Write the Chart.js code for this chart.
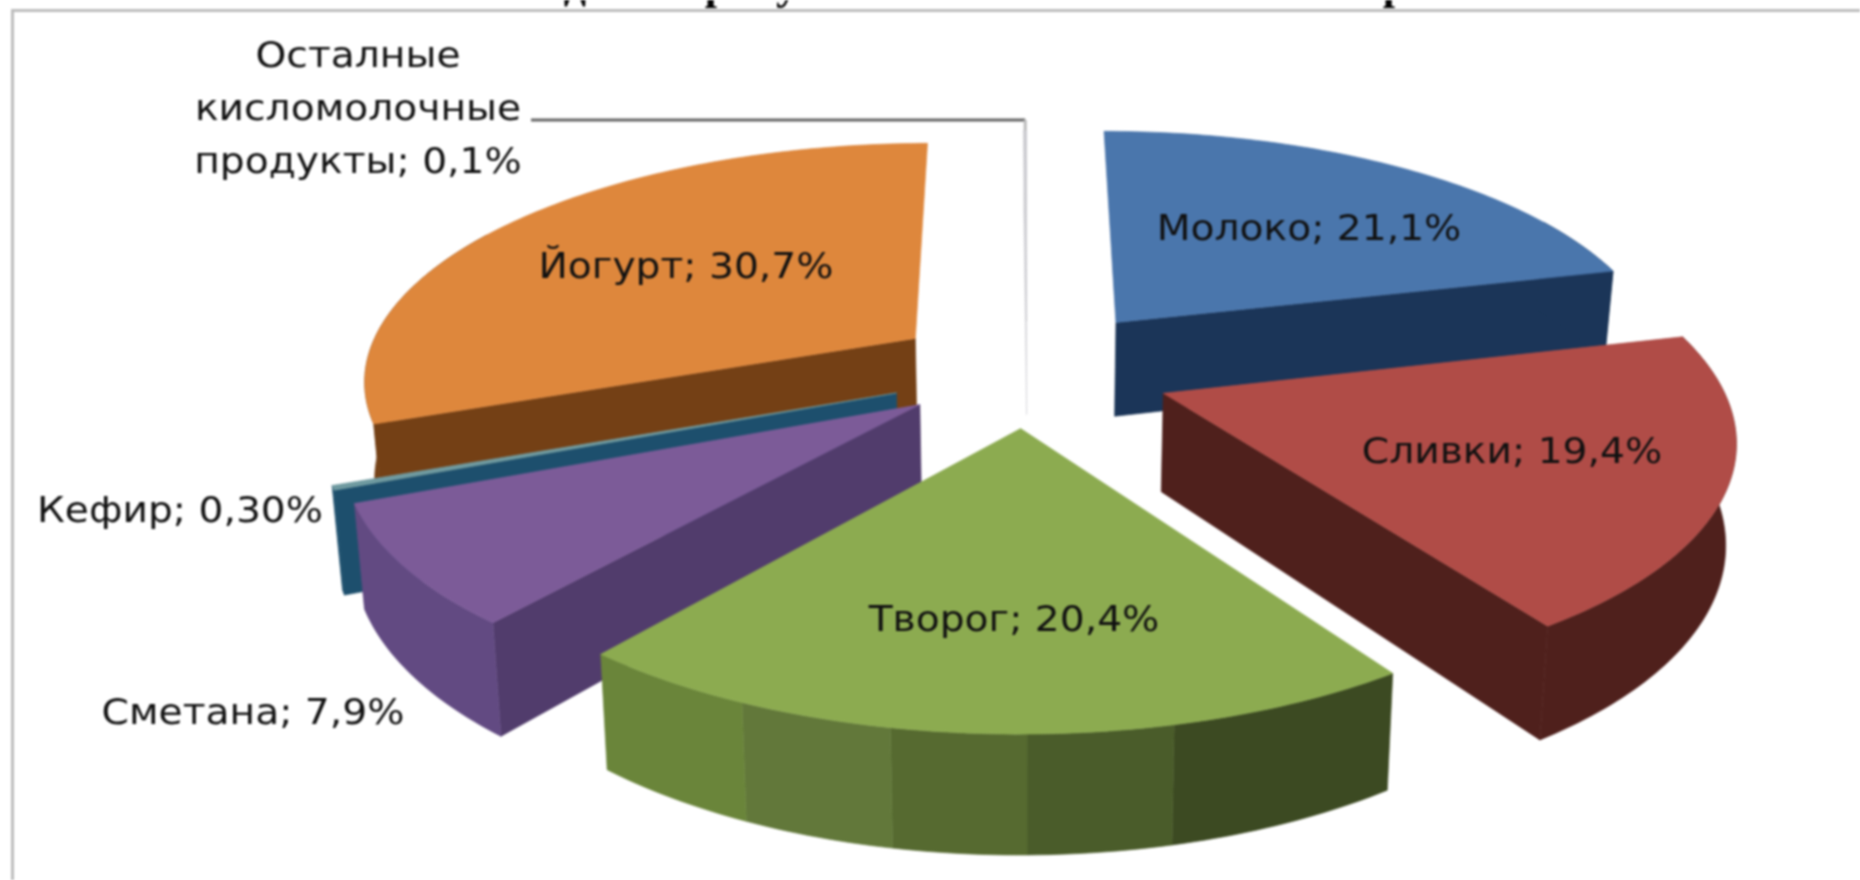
<!DOCTYPE html>
<html>
<head>
<meta charset="utf-8">
<style>
  html, body { margin: 0; padding: 0; background: #fff; overflow: hidden; }
  #wrap { width: 1860px; height: 880px; }
  canvas { filter: blur(1.1px); }
</style>
<script src="https://cdn.jsdelivr.net/npm/chart.js@4/dist/chart.umd.js"></script>
</head>
<body>
<div id="wrap"><canvas id="pieChart" width="1860" height="880"></canvas></div>
<script>
// Dados do gráfico
const categories = ['Молоко', 'Сливки', 'Творог', 'Сметана', 'Кефир', 'Йогурт', 'Осталные кисломолочные продукты'];
const values = [21.1, 19.4, 20.4, 7.9, 0.3, 30.7, 0.1];
const valueLabels = ['21,1%', '19,4%', '20,4%', '7,9%', '0,30%', '30,7%', '0,1%'];
const explosion = [27, 26, 23.5, 23.5, 25, 25, 22];

// Cores
const topColors = ['#4a76ac', '#b04c47', '#8cab50', '#7c5b98', '#6f9aa0', '#de873c', '#c9c9ce'];
const sideColors = ['#1b3558', '#4f201c', '#4a5c2a', '#513c6c', '#1d4f6d', '#744015', '#d2d2d6'];
const rimColors = ['#1b3558', '#4f201c', null, '#624a82', '#1d4f6d', '#744015', '#d2d2d6'];
const greenBands = ['#3c4a22', '#4a5c2a', '#566a30', '#62783a', '#6a853a'];
const greenEdges = [167, 180, 191, 205];

// Posição dos rótulos
const labelPos = [[1309, 231], [1512, 454], [1014, 622], [253, 715], [180, 513], [686, 269], [358, 58]];

// Projeção em perspectiva
const cx = 1027, cy = 371, sx = 553, sy = 236, persp = 0.16, depth = 97;
function project(px, py, down) {
  const s = 1 / (1 - persp * py);
  const k = down ? 0.985 : 1;
  return {
    x: cx + sx * px * s * k,
    y: cy + sy * py * s + (down ? depth * s : 0)
  };
}

function fillPoly(ctx, pts, color) {
  ctx.beginPath();
  pts.forEach((p, i) => i ? ctx.lineTo(p.x, p.y) : ctx.moveTo(p.x, p.y));
  ctx.closePath();
  ctx.fillStyle = color;
  ctx.strokeStyle = color;
  ctx.lineWidth = 0.6;
  ctx.fill();
  ctx.stroke();
}

function rimColor(i, a) {
  if (rimColors[i]) return rimColors[i];
  const deg = a * 180 / Math.PI;
  let b = 0;
  while (b < greenEdges.length && deg > greenEdges[b]) b++;
  return greenBands[b];
}

function drawSlice(ctx, el, i) {
  // ângulos vindos do Chart.js, 0 = topo, sentido horário
  const a0 = el.startAngle + Math.PI / 2;
  const a1 = el.endAngle + Math.PI / 2;
  const mid = (a0 + a1) / 2;
  const off = el.options.offset / 100;
  const ox = Math.sin(mid) * off, oy = -Math.cos(mid) * off;
  const steps = Math.max(2, Math.ceil((a1 - a0) * 60));
  const rim = [];
  for (let k = 0; k <= steps; k++) {
    const a = a0 + (a1 - a0) * k / steps;
    rim.push([ox + Math.sin(a), oy - Math.cos(a), a]);
  }

  // paredes radiais, só as voltadas para quem olha
  const wall = r => fillPoly(ctx, [project(ox, oy), project(r[0], r[1]), project(r[0], r[1], true), project(ox, oy, true)], sideColors[i]);
  if (Math.sin(a0) < 0) wall(rim[0]);
  if (Math.sin(a1) > 0) wall(rim[steps]);

  // parede externa, agrupada por cor (o topo cobre o excesso)
  let run = [];
  let runColor = null;
  const flush = () => {
    if (run.length > 1) {
      const up = run.map(r => project(r[0], r[1]));
      const down = run.map(r => project(r[0], r[1], true)).reverse();
      fillPoly(ctx, up.concat(down), runColor);
    }
  };
  rim.forEach(r => {
    if (Math.cos(r[2]) > 0.5) { flush(); run = []; runColor = null; return; }
    const color = rimColor(i, r[2]);
    if (color !== runColor) {
      const last = run[run.length - 1];
      flush();
      run = last ? [last] : [];
      runColor = color;
    }
    run.push(r);
  });
  flush();

  // topo
  const top = [project(ox, oy)].concat(rim.map(r => project(r[0], r[1])));
  fillPoly(ctx, top, el.options.backgroundColor);
}

const pie3d = {
  id: 'pie3d',
  beforeDatasetsDraw(chart) {
    const ctx = chart.ctx;
    const arcs = chart.getDatasetMeta(0).data;
    const order = arcs.map((el, i) => i).sort((a, b) => {
      const m = el => (el.startAngle + el.endAngle) / 2 + Math.PI / 2;
      return -Math.cos(m(arcs[a])) - -Math.cos(m(arcs[b]));
    });
    ctx.save();
    order.forEach(i => drawSlice(ctx, arcs[i], i));
    ctx.restore();
    return false; // o desenho 3D substitui o padrão
  },
  afterDraw(chart) {
    const ctx = chart.ctx;
    const arcs = chart.getDatasetMeta(0).data;
    ctx.save();

    // moldura cortada
    ctx.fillStyle = '#bdbdbd';
    ctx.fillRect(12, 9, 1848, 3);
    ctx.fillRect(11, 9, 3, 871);

    // título cortado pela borda de cima
    ctx.fillStyle = '#000';
    ctx.font = 'bold 44px "Liberation Serif"';
    ctx.textAlign = 'center';
    ctx.textBaseline = 'alphabetic';
    ctx.fillText('д', 575, -1);
    ctx.fillText('р', 717, -1);
    ctx.fillText('у', 787, -1);
    ctx.fillText('р', 1395, -1);

    // linha de chamada do último rótulo
    const last = arcs[arcs.length - 1];
    const a = (last.startAngle + last.endAngle) / 2 + Math.PI / 2;
    const off = last.options.offset / 100;
    const tip = project(Math.sin(a) * (1 + off), -Math.cos(a) * (1 + off));
    ctx.strokeStyle = '#666';
    ctx.lineWidth = 3;
    ctx.beginPath();
    ctx.moveTo(531, 120);
    ctx.lineTo(tip.x, 120);
    ctx.stroke();
    ctx.strokeStyle = '#bbb';
    ctx.beginPath();
    ctx.moveTo(tip.x, 120);
    ctx.lineTo(tip.x, tip.y);
    ctx.stroke();

    // rótulos
    ctx.fillStyle = '#111';
    ctx.font = '35px "DejaVu Sans"';
    ctx.textBaseline = 'middle';
    const put = (text, x, y) => {
      ctx.save();
      ctx.translate(x, y);
      ctx.scale(1.12, 1);
      ctx.fillText(text, 0, 0);
      ctx.restore();
    };
    categories.forEach((name, i) => {
      const [x, y] = labelPos[i];
      if (i === categories.length - 1) {
        ['Осталные', 'кисломолочные', 'продукты; ' + valueLabels[i]].forEach((line, n) => {
          put(line, x, y + n * 53);
        });
      } else {
        put(name + '; ' + valueLabels[i], x, y);
      }
    });
    ctx.restore();
  }
};

// Configuração do gráfico
const config = {
  type: 'pie',
  data: {
    labels: categories,
    datasets: [{
      data: values,
      backgroundColor: topColors,
      offset: explosion,
      borderWidth: 0
    }]
  },
  options: {
    responsive: false,
    animation: false,
    plugins: { legend: { display: false }, tooltip: { enabled: false } }
  },
  plugins: [pie3d]
};

new Chart(document.getElementById('pieChart').getContext('2d'), config);
</script>
</body>
</html>
